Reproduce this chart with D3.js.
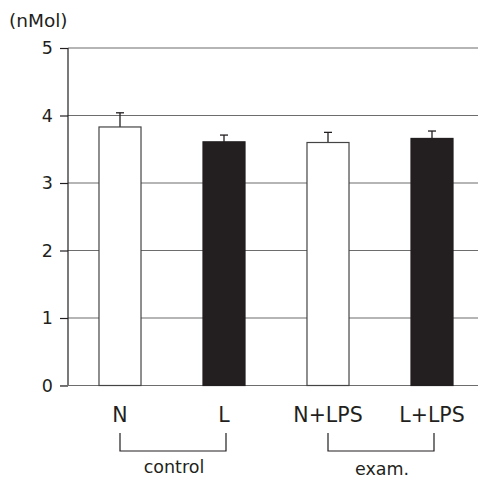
<!DOCTYPE html>
<html><head><meta charset="utf-8">
<script src="https://cdn.jsdelivr.net/npm/d3@7"></script>
<style>body{margin:0;background:#fff}svg{display:block}text{font-family:"DejaVu Sans",sans-serif;fill:#231f20}</style>
</head><body><svg id="c" width="478" height="478"></svg>
<script>
const categories = ["N", "L", "N+LPS", "L+LPS"];
const values = [3.83, 3.61, 3.60, 3.66];
const errors = [0.21, 0.10, 0.15, 0.11];
const fills = ["white", "black", "white", "black"];
const yTicks = [0, 1, 2, 3, 4, 5];
const groups = [{label: "control", from: "N", to: "L"}, {label: "exam.", from: "N+LPS", to: "L+LPS"}];
const unitLabel = "(nMol)";

const FONT = '"DejaVu Sans",sans-serif';
const svg = d3.select("#c");
const x = d3.scaleBand().domain(categories).range([68, 484]).paddingInner(0.596).paddingOuter(0.298);
const y = d3.scaleLinear().domain([0, 5]).range([385.5, 48]);

// gridlines
svg.append("g").selectAll("line").data(yTicks.filter(d => d > 0)).join("line")
  .attr("x1", 68).attr("x2", 478).attr("y1", d => y(d)).attr("y2", d => y(d))
  .attr("stroke", "#6d6d6d").attr("stroke-width", 1.2);

// y axis
const ya = svg.append("g").attr("transform", "translate(68,0)")
  .call(d3.axisLeft(y).tickValues(yTicks).tickSize(8).tickPadding(7).tickFormat(d3.format("d")));
ya.select(".domain").attr("stroke", "#231f20").attr("stroke-width", 1.2).attr("d", `M0,${y(0)}V${y(5)}`);
ya.selectAll(".tick line").attr("stroke", "#231f20").attr("stroke-width", 1.2);
ya.selectAll(".tick text").attr("font-size", 17.5).attr("fill", "#231f20").attr("font-family", FONT);
// x baseline
svg.append("line").attr("x1", 60).attr("x2", 478).attr("y1", y(0)).attr("y2", y(0)).attr("stroke", "#6d6d6d").attr("stroke-width", 1.2);

svg.append("text").attr("x", 9).attr("y", 27).attr("font-size", 18.5).text(unitLabel);

const data = categories.map((c, i) => ({c, v: values[i], e: errors[i], f: fills[i]}));

// error bars
const eb = svg.append("g").selectAll("g").data(data).join("g");
eb.append("line").attr("x1", d => x(d.c) + x.bandwidth()/2).attr("x2", d => x(d.c) + x.bandwidth()/2)
  .attr("y1", d => y(d.v - d.e)).attr("y2", d => y(d.v + d.e)).attr("stroke", "#231f20").attr("stroke-width", 1.3);
eb.append("line").attr("x1", d => x(d.c) + x.bandwidth()/2 - 4).attr("x2", d => x(d.c) + x.bandwidth()/2 + 4)
  .attr("y1", d => y(d.v + d.e)).attr("y2", d => y(d.v + d.e)).attr("stroke", "#231f20").attr("stroke-width", 1.3);
eb.append("line").attr("x1", d => x(d.c) + x.bandwidth()/2 - 4).attr("x2", d => x(d.c) + x.bandwidth()/2 + 4)
  .attr("y1", d => y(d.v - d.e)).attr("y2", d => y(d.v - d.e)).attr("stroke", "#231f20").attr("stroke-width", 1.3);

// bars
svg.append("g").selectAll("rect").data(data).join("rect")
  .attr("x", d => x(d.c)).attr("width", x.bandwidth())
  .attr("y", d => y(d.v)).attr("height", d => y(0) - y(d.v))
  .attr("fill", d => d.f === "black" ? "#231f20" : "#fff")
  .attr("stroke", d => d.f === "black" ? "#231f20" : "#444").attr("stroke-width", 1.2);

// category labels
svg.append("g").selectAll("text").data(categories).join("text")
  .attr("x", d => x(d) + x.bandwidth()/2).attr("y", 422).attr("text-anchor", "middle")
  .attr("font-size", 20.5).text(d => d);

// group brackets
const gg = svg.append("g").selectAll("g").data(groups).join("g");
gg.append("path").attr("fill", "none").attr("stroke", "#231f20").attr("stroke-width", 1.2)
  .attr("d", d => {
    const a = x(d.from) + x.bandwidth()/2, b = x(d.to) + x.bandwidth()/2 + 2;
    return `M${a},433V451H${b}V433`;
  });
gg.append("text").attr("x", d => (x(d.from) + x(d.to) + x.bandwidth())/2 + 2)
  .attr("y", (d, i) => i === 0 ? 473 : 475).attr("text-anchor", "middle").attr("font-size", 17.5).text(d => d.label);
</script></body></html>
